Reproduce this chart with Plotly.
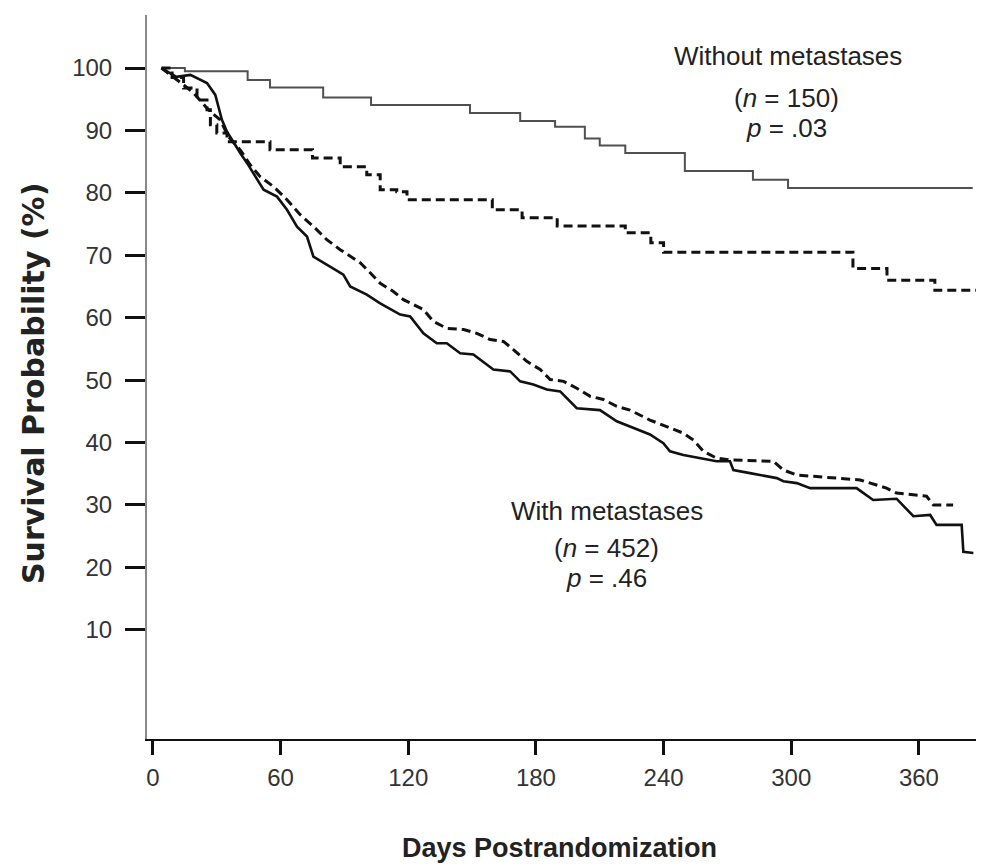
import plotly.graph_objects as go

# ---- data (days, survival %) ----
wo_solid_days = [4, 15, 44.5, 55, 80, 102.5, 149, 172.6, 189, 203, 210, 222, 250, 282, 298.5, 385.3]
wo_solid_surv = [100, 99.5, 98.1, 96.9, 95.3, 94.1, 92.8, 91.5, 90.6, 88.7, 87.6, 86.4, 83.5, 82.1, 80.8, 80.8]

wo_dash_days = [4, 9, 14.4, 20.7, 25.4, 27, 30, 34.8, 55, 75, 88, 100.5, 106.8, 114.6, 119.4,
                159.5, 173.5, 190, 222, 234, 240, 329, 345, 367.5, 389]
wo_dash_surv = [100, 98.5, 96.8, 94.9, 93.3, 90.9, 89.6, 88.2, 86.9, 85.6, 84.2, 82.9, 80.5, 80.2, 78.9,
                77.3, 76.0, 74.7, 73.6, 72.0, 70.5, 67.9, 66.0, 64.4, 64.4]

w_solid_days = [4, 11, 17.6, 25.4, 29.3, 30.8, 32.4, 34.8, 37.9, 41, 44.2, 48, 52, 58.3, 63, 67.7, 72.4,
                75.4, 80.1, 89.5, 92.7, 100.5, 106.8, 116.2, 120.9, 127.1, 133.4, 138.1, 144.4, 150.6,
                160, 167.9, 172.6, 178.8, 185.1, 191.4, 199.2, 210.1, 218, 224.2, 233.6, 239.9, 243,
                249.3, 257.1, 264.9, 271.2, 272.8, 280.6, 288.5, 293.2, 296.3, 302.6, 308.9, 330.7,
                338.5, 349.5, 357.4, 365.3, 368.3, 380.1, 380.9, 385.6]
w_solid_surv = [100, 98.6, 98.9, 97.6, 95.7, 93.8, 91.7, 89.8, 88.0, 86.4, 84.8, 82.6, 80.5, 79.4, 77.3, 74.6, 73.0,
                69.8, 68.8, 66.9, 65.0, 63.7, 62.3, 60.5, 60.2, 57.5, 55.9, 55.9, 54.3, 54.1,
                51.7, 51.4, 49.8, 49.3, 48.5, 48.2, 45.5, 45.2, 43.4, 42.6, 41.3, 39.9, 38.6,
                38.0, 37.5, 37.0, 37.0, 35.6, 35.1, 34.6, 34.3, 33.8, 33.5, 32.7, 32.7,
                30.8, 31.0, 28.2, 28.4, 26.8, 26.8, 22.5, 22.3]

w_dash_days = [4, 11.3, 14.4, 19.1, 26.1, 31.6, 35.5, 41, 45.7, 50.4, 56.7, 63, 69.2, 75.5, 81.7, 88,
               97.4, 102.1, 106.8, 113, 117.7, 122.4, 127.1, 131.8, 138.1, 146, 152.2, 158.5, 164.7,
               169.4, 175.7, 182, 186.7, 193, 199.2, 205.5, 211.7, 218, 224.2, 233.6, 241.5, 249.3,
               254, 258.7, 264.9, 271.2, 291.6, 296.3, 302.6, 321.4, 332.4, 344.8, 349.5, 363.6,
               366.8, 376.1]
w_dash_surv = [100, 98.2, 97.3, 96.0, 93.3, 91.7, 89.0, 86.9, 84.5, 82.6, 81.0, 78.9, 76.5, 74.6, 72.5, 70.9,
               68.8, 67.2, 65.5, 64.2, 62.9, 62.1, 61.3, 59.4, 58.3, 58.1, 57.5, 56.5, 56.2,
               54.9, 53.0, 51.7, 50.1, 49.8, 48.7, 47.4, 46.9, 45.8, 45.2, 43.6, 42.6, 41.5,
               40.4, 38.6, 37.5, 37.2, 37.0, 35.6, 34.8, 34.3, 34.0, 32.7, 31.9, 31.4,
               30.0, 30.0]

x_ticks = [0, 60, 120, 180, 240, 300, 360]
y_ticks = [10, 20, 30, 40, 50, 60, 70, 80, 90, 100]

FONT = "Liberation Sans, Arial, Helvetica, sans-serif"
WIDE_BOLD = "DejaVu Sans, Liberation Sans, Arial, sans-serif"

fig = go.Figure()
fig.add_trace(go.Scatter(x=wo_solid_days, y=wo_solid_surv, mode="lines", line_shape="hv",
                         line=dict(color="#505050", width=2), name="Without metastases, solid"))
fig.add_trace(go.Scatter(x=wo_dash_days, y=wo_dash_surv, mode="lines", line_shape="hv",
                         line=dict(color="#111111", width=3, dash="9px,5px"), name="Without metastases, dashed"))
fig.add_trace(go.Scatter(x=w_solid_days, y=w_solid_surv, mode="lines",
                         line=dict(color="#111111", width=2.6), name="With metastases, solid"))
fig.add_trace(go.Scatter(x=w_dash_days, y=w_dash_surv, mode="lines",
                         line=dict(color="#111111", width=3, dash="9px,5px"), name="With metastases, dashed"))


def note(x, y, text, size=26):
    fig.add_annotation(x=x, y=y, xref="x", yref="y", text=text,
                       showarrow=False, font=dict(family=FONT, size=size, color="#222222"),
                       xanchor="center", yanchor="middle")


note(298.4, 101.97, "Without metastases")
note(298.0, 95.2, "(<i>n</i> = 150)")
note(298.0, 90.4, "<i>p</i> = .03")
note(213.3, 29.0, "With metastases")
note(213.0, 23.1, "(<i>n</i> = 452)")
note(213.0, 18.3, "<i>p</i> = .46")

fig.add_annotation(x=0.4934, y=-0.150, xref="paper", yref="paper", text="<b>Days Postrandomization</b>",
                   showarrow=False, font=dict(family=FONT, size=27, color="#222222"),
                   xanchor="center", yanchor="middle")
fig.add_annotation(x=-0.1362, y=0.4903, xref="paper", yref="paper", text="<b>Survival Probability (%)</b>",
                   showarrow=False, textangle=-90, font=dict(family=WIDE_BOLD, size=30, color="#222222"),
                   xanchor="center", yanchor="middle")

fig.update_layout(
    width=976, height=858, autosize=False,
    margin=dict(l=139, r=0, t=7, b=127, pad=0),
    paper_bgcolor="white", plot_bgcolor="white",
    showlegend=False,
    xaxis=dict(range=[-2.8, 390.6], tickvals=x_ticks, ticktext=[str(v) for v in x_ticks],
               showgrid=False, zeroline=False, showline=True, linecolor="#111111", linewidth=2,
               ticks="outside", ticklen=14, tickwidth=3, tickcolor="#111111",
               tickfont=dict(family=FONT, size=24, color="#333333"), ticklabelstandoff=2),
    yaxis=dict(range=[-7.5, 108.5], tickvals=y_ticks, ticktext=[str(v) for v in y_ticks],
               showgrid=False, zeroline=False, showline=True, linecolor="#8a8a8a", linewidth=2,
               ticks="outside", ticklen=20, tickwidth=3, tickcolor="#111111",
               tickfont=dict(family=FONT, size=24, color="#333333"), ticklabelstandoff=8),
)

fig.write_html("out.html")
